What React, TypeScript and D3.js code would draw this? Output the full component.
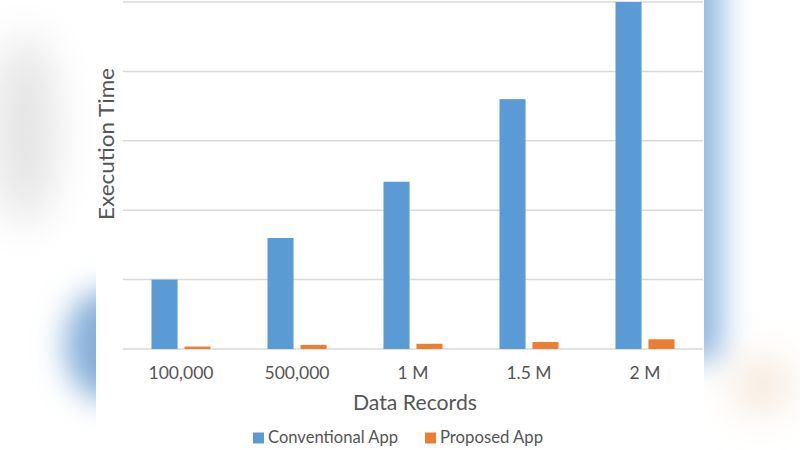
import React from "react";
import * as d3 from "d3";

const categories = ["100,000", "500,000", "1 M", "1.5 M", "2 M"];
const seriesNames = ["Conventional App", "Proposed App"];
const conventional = [1.0, 1.6, 2.41, 3.6, 5.0];
const proposed = [0.035, 0.06, 0.075, 0.1, 0.14];
const yTicks = [0, 1, 2, 3, 4, 5];
const colors = ["#5B9BD5", "#ED7D31"];

const W = 800;
const H = 450;
const FONT = "Lato, 'Open Sans', sans-serif";

export default function App() {
  const x0 = d3.scaleBand<string>().domain(categories).range([123, 703]).padding(0);
  const x1 = d3
    .scaleBand<string>()
    .domain(seriesNames)
    .range([28.5, 87.5])
    .paddingInner(0.21)
    .paddingOuter(0);
  const y = d3.scaleLinear().domain([0, 5]).range([349, 2]);
  const series = [conventional, proposed];

  return (
    <svg
      width={W}
      height={H}
      style={{ position: "absolute", left: 0, top: 0, display: "block" }}
    >
      <defs>
        <filter id="blurBig" x="-100%" y="-100%" width="300%" height="300%">
          <feGaussianBlur stdDeviation="22" />
        </filter>
        <filter id="blurMid" x="-100%" y="-100%" width="300%" height="300%">
          <feGaussianBlur stdDeviation="15" />
        </filter>
      </defs>
      <rect x={0} y={0} width={W} height={H} fill="#ffffff" />
      {/* blurred backgrounds */}
      <ellipse cx={25} cy={130} rx={30} ry={95} fill="#e2e2e2" filter="url(#blurBig)" />
      <ellipse cx={105} cy={345} rx={40} ry={55} fill="#86aed8" filter="url(#blurMid)" />
      <rect x={670} y={-40} width={52} height={400} fill="#90b8e0" filter="url(#blurMid)" />
      <ellipse cx={762} cy={385} rx={26} ry={24} fill="#f3dfcc" filter="url(#blurBig)" />
      {/* white chart panel */}
      <rect x={96} y={0} width={608} height={H} fill="#ffffff" />

      {/* gridlines */}
      {yTicks.map((t) => (
        <line
          key={t}
          x1={123}
          x2={703}
          y1={y(t)}
          y2={y(t)}
          stroke="#d9d9d9"
          strokeWidth={1.5}
        />
      ))}

      {/* bars */}
      {categories.map((c, i) => (
        <g key={c} transform={`translate(${x0(c)},0)`}>
          {seriesNames.map((s, j) => (
            <rect
              key={s}
              x={x1(s)}
              width={x1.bandwidth()}
              y={y(series[j][i])}
              height={y(0) - y(series[j][i])}
              fill={colors[j]}
            />
          ))}
        </g>
      ))}

      {/* category labels */}
      {categories.map((c) => (
        <text
          key={c}
          x={(x0(c) as number) + x0.bandwidth() / 2}
          y={379}
          textAnchor="middle"
          fontFamily={FONT}
          fontSize={17.5}
          fill="#555555"
        >
          {c}
        </text>
      ))}

      {/* axis titles */}
      <text
        x={415}
        y={410}
        textAnchor="middle"
        fontFamily={FONT}
        fontSize={20.5}
        fill="#555555"
        textLength={124}
        lengthAdjust="spacingAndGlyphs"
      >
        Data Records
      </text>
      <text
        transform={`translate(114,${144}) rotate(-90)`}
        textAnchor="middle"
        fontFamily={FONT}
        fontSize={20.5}
        fill="#555555"
        textLength={152}
        lengthAdjust="spacingAndGlyphs"
      >
        Execution Time
      </text>

      {/* legend */}
      <rect x={253} y={432.5} width={11} height={11} fill={colors[0]} />
      <text
        x={268}
        y={443}
        fontFamily={FONT}
        fontSize={17.5}
        fill="#555555"
        textLength={130}
        lengthAdjust="spacingAndGlyphs"
      >
        {seriesNames[0]}
      </text>
      <rect x={425} y={432.5} width={11} height={11} fill={colors[1]} />
      <text
        x={440}
        y={443}
        fontFamily={FONT}
        fontSize={17.5}
        fill="#555555"
        textLength={103}
        lengthAdjust="spacingAndGlyphs"
      >
        {seriesNames[1]}
      </text>
    </svg>
  );
}
